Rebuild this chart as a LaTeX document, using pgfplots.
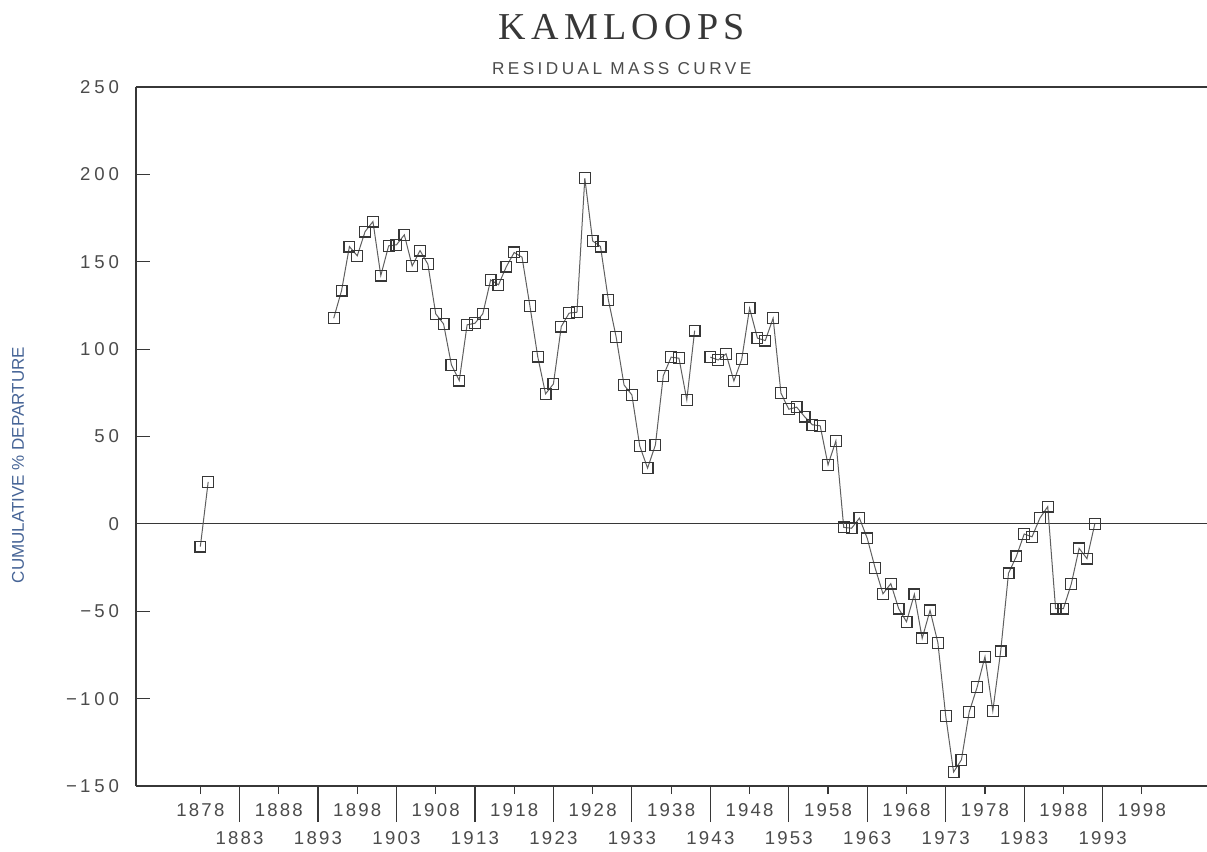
\documentclass[border=0pt]{standalone}
\usepackage{fontspec}
\setmainfont{Liberation Sans}
\newfontfamily\titlefont[LetterSpace=14]{Liberation Serif}
\newfontfamily\subfont[LetterSpace=20]{Liberation Sans}
\newfontfamily\tickfont[LetterSpace=12]{Liberation Sans}
\newfontfamily\ytickfont[LetterSpace=21]{Liberation Sans}
\usepackage{pgfplots}
\pgfplotsset{compat=1.18}

\definecolor{ink}{RGB}{55,55,55}
\definecolor{txt}{RGB}{75,75,75}
\definecolor{lab}{RGB}{70,100,150}

% cumulative % departure by year (nan = break in the curve)
\pgfplotstableread{
year val
1878 -13
1879 24
1880 nan
1895 117.7
1896 133.5
1897 158.7
1898 153.4
1899 167.3
1900 173
1901 142.1
1902 159.1
1903 159.7
1904 165.4
1905 147.6
1906 156.4
1907 148.6
1908 120.2
1909 114.4
1910 91
1911 82
1912 113.9
1913 114.8
1914 120.2
1915 139.6
1916 136.8
1917 147.2
1918 155.3
1919 152.6
1920 124.8
1921 95.7
1922 74.4
1923 80.1
1924 112.9
1925 120.6
1926 121.1
1927 197.8
1928 161.9
1929 158.7
1930 128.2
1931 106.8
1932 79.5
1933 73.8
1934 44.6
1935 31.9
1936 45.2
1937 84.7
1938 95.4
1939 94.8
1940 71
1941 110.6
1942 nan
1943 95.4
1944 93.8
1945 97.3
1946 81.8
1947 94.2
1948 123.4
1949 106.3
1950 104.9
1951 117.7
1952 74.8
1953 65.6
1954 66.8
1955 61.4
1956 56.7
1957 56.1
1958 33.8
1959 47.5
1960 -2
1961 -2.5
1962 3.3
1963 -8.3
1964 -25.2
1965 -40
1966 -34.2
1967 -48.5
1968 -56
1969 -40.3
1970 -65.5
1971 -49.5
1972 -68
1973 -110
1974 -142
1975 -135
1976 -107.5
1977 -93.5
1978 -76
1979 -107
1980 -73
1981 -28.3
1982 -18.6
1983 -5.8
1984 -7.4
1985 3.3
1986 9.9
1987 -48.5
1988 -48.5
1989 -34.4
1990 -14
1991 -19.9
1992 0
}\kamloops

\begin{document}
\begin{tikzpicture}
\begin{axis}[
    name=ax,
    scale only axis,
    width=535.5pt,
    height=349.5pt,
    xmin=1869.8, xmax=2006.3,
    ymin=-150, ymax=250,
    axis x line=box,
    axis y line*=left,
    axis line style={ink, line width=0.8pt},
    xtick pos=left,
    xtick align=outside,
    ytick align=inside,
    major tick length=4pt,
    tick style={ink, line width=0.6pt},
    xtick={1878,1888,...,1998},
    xticklabels={1878,1888,1898,1908,1918,1928,1938,1948,1958,1968,1978,1988,1998},
    extra x ticks={1883,1893,...,1993},
    extra x tick labels={1883,1893,1903,1913,1923,1933,1943,1953,1963,1973,1983,1993},
    extra x tick style={major tick length=18pt},
    ytick=\empty,
    extra y ticks={-150,-100,...,250},
    extra y tick labels={−\kern1.5pt150,−\kern1.5pt100,−\kern1.5pt50,0,50,100,150,200,250},
    extra y tick style={major tick length=7pt, ytick align=inside},
    xticklabel style={font=\tickfont\fontsize{9.3}{10}\selectfont, text=txt, yshift=-1pt},
    yticklabel style={font=\ytickfont\fontsize{9.3}{10}\selectfont, text=txt, xshift=-5pt},
    unbounded coords=jump,
    clip=false,
]
\draw[ink, line width=0.6pt] (axis cs:1869.8,0) -- (axis cs:2006.3,0);
\addplot[ink!80, line width=0.5pt, mark=square, mark size=2.7pt,
    mark options={ink, line width=0.6pt}] table[x=year, y=val] {\kamloops};
\node[font=\titlefont\fontsize{19}{19}\selectfont, text=ink]
    at ([yshift=29.75pt]axis cs:1931.7,250) {KAMLOOPS};
\node[font=\subfont\fontsize{8.6}{9}\selectfont, text=txt]
    at ([yshift=9pt]axis cs:1931.7,250) {RESIDUAL MASS CURVE};
\node[rotate=90, font=\fontsize{8.5}{9}\selectfont, text=lab]
    at ([xshift=-59pt]rel axis cs:0,0.459) {CUMULATIVE \% DEPARTURE};
\end{axis}
\pgfresetboundingbox
\path ([shift={(-68pt,-32.5pt)}]ax.south west) rectangle ([shift={(0pt,43.5pt)}]ax.north east);
\end{tikzpicture}
\end{document}
